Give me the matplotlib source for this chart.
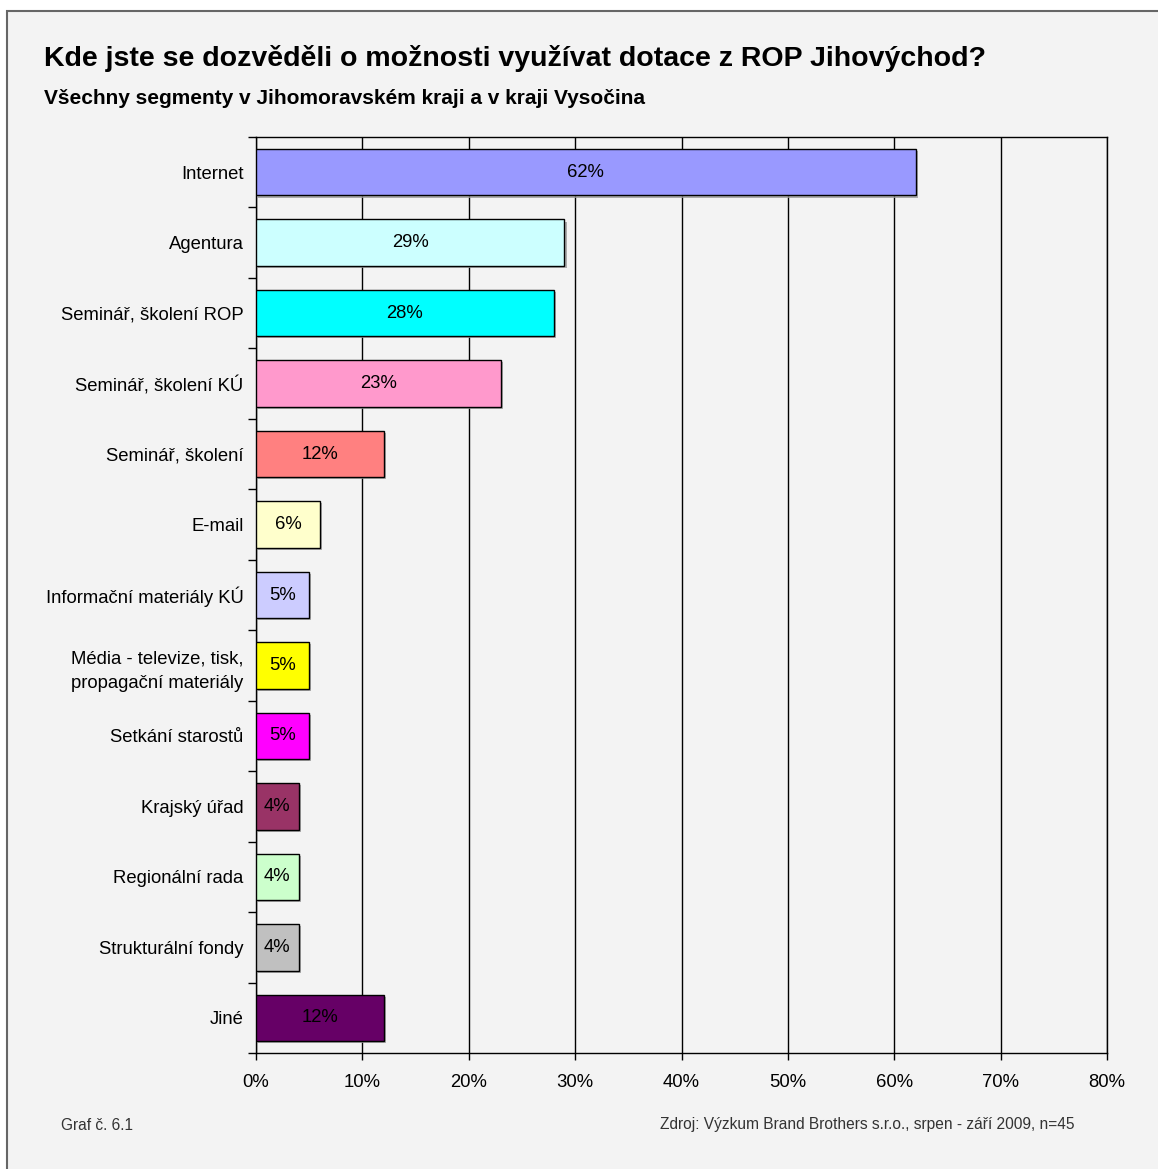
import matplotlib
matplotlib.use("Agg")
import matplotlib.pyplot as plt
from matplotlib.patches import Rectangle
import matplotlib.patheffects as pe
import numpy as np

plt.rcParams['font.family'] = ['Liberation Sans', 'DejaVu Sans']

categories = ["Internet", "Agentura", "Seminář, školení ROP", "Seminář, školení KÚ",
              "Seminář, školení", "E-mail", "Informační materiály KÚ",
              "Média - televize, tisk,\npropagační materiály", "Setkání starostů",
              "Krajský úřad", "Regionální rada", "Strukturální fondy", "Jiné"]
values = [62, 29, 28, 23, 12, 6, 5, 5, 5, 4, 4, 4, 12]
colors = ["#9999FF", "#CCFFFF", "#00FFFF", "#FF99CC", "#FF8080", "#FFFFCC", "#CCCCFF",
          "#FFFF00", "#FF00FF", "#993366", "#CCFFCC", "#C0C0C0", "#660066"]
xticks = [0, 10, 20, 30, 40, 50, 60, 70, 80]

W, H = 1158, 1169
FS = 13.3
fig = plt.figure(figsize=(W/100, H/100), dpi=100, facecolor="white")
fig.patches.append(Rectangle((7/W, -0.01), 1.02, (H-11)/H + 0.01, transform=fig.transFigure,
                             facecolor="#F3F3F3", edgecolor="#666666", linewidth=1.5, zorder=-10))

ax = fig.add_axes([256/W, 1-1053/H, (1107-256)/W, (1053-137)/H])
ax.set_zorder(1)
ax.set_facecolor("#F3F3F3")
ypos = np.arange(len(categories))
bars = ax.barh(ypos, values, height=0.66, color=colors, edgecolor="black", linewidth=1, zorder=3,
               path_effects=[pe.SimplePatchShadow(offset=(1.5, -1.5), shadow_rgbFace="#999999", alpha=0.8), pe.Normal()])
for y, v in zip(ypos, values):
    ax.text(v/2, y, f"{v}%", ha="center", va="center", fontsize=FS, color="black", zorder=4)

ax.set_xlim(0, 80)
ax.set_ylim(len(categories)-0.5, -0.5)
ax.set_xticks(xticks)
ax.set_xticklabels([f"{t}%" for t in xticks], fontsize=FS)
ax.set_yticks(ypos)
ax.set_yticklabels(categories, fontsize=FS, multialignment="center", linespacing=1.55)
ax.set_yticks(np.arange(-0.5, len(categories), 1), minor=True)
ax.tick_params(axis="y", which="major", length=0, pad=9)
ax.tick_params(axis="y", which="minor", length=6, width=1, direction="out")
ax.tick_params(axis="x", length=5, width=1, direction="out", pad=10)
ax.grid(axis="x", color="black", linewidth=1, zorder=1)
ax.set_axisbelow(True)
for s in ax.spines.values():
    s.set_linewidth(1)
    s.set_color("black")

fig.text(44/W, 1-58/H, "Kde jste se dozvěděli o možnosti využívat dotace z ROP Jihovýchod?",
         fontsize=20.5, fontweight="bold", ha="left", va="center")
fig.text(44/W, 1-98/H, "Všechny segmenty v Jihomoravském kraji a v kraji Vysočina",
         fontsize=15, fontweight="bold", ha="left", va="center")
fig.text(61/W, 1-1125/H, "Graf č. 6.1", fontsize=11.2, color="#333333", ha="left", va="center")
fig.text(1075/W, 1-1125/H, "Zdroj: Výzkum Brand Brothers s.r.o., srpen - září 2009, n=45",
         fontsize=11.2, color="#333333", ha="right", va="center")

fig.savefig("out.png", dpi=100, facecolor="white")
